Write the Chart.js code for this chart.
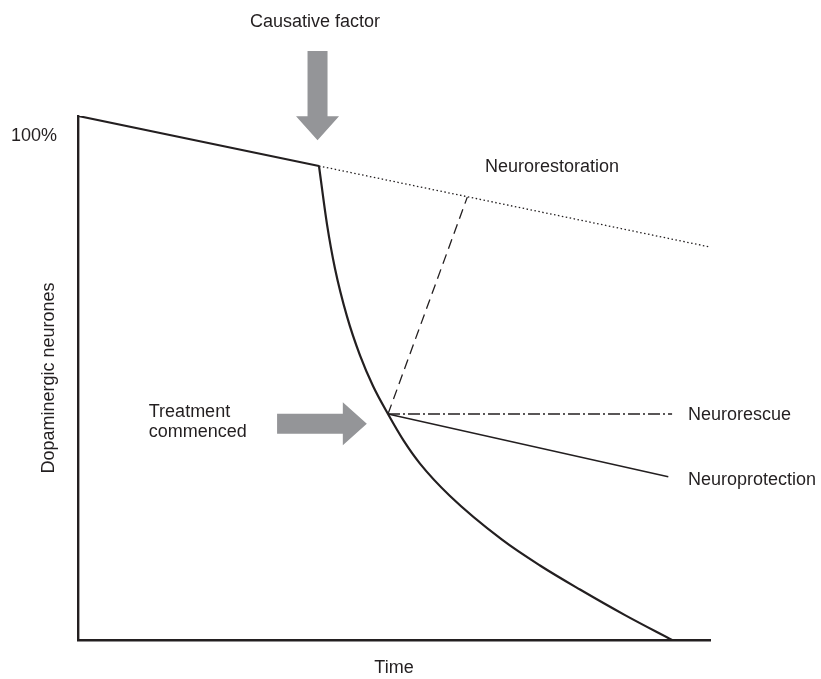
<!DOCTYPE html>
<html><head><meta charset="utf-8">
<script src="https://cdn.jsdelivr.net/npm/chart.js@4/dist/chart.umd.min.js"></script>
<style>html,body{margin:0;padding:0;background:#fff;}#wrap{width:821px;height:679px;}</style>
</head><body><div id="wrap"><canvas id="c" width="821" height="679"></canvas></div>
<script>
// ---- data ----
const xAxisTitle = 'Time';
const yAxisTitle = 'Dopaminergic neurones';
const yTickValues = [100];
const yTickLabels = ['100%'];

// slow decline before the causative factor
const preOnsetX = [0, 38.13];
const preOnsetY = [104, 94.08];
// accelerated loss after the causative factor
const diseaseX = [38.13, 39.40, 40.66, 42.56, 44.62, 46.68, 49.05, 51.58, 54.11, 58.86, 67.09, 73.10, 79.43, 86.55, 93.99];
const diseaseY = [94.08, 82.49, 73.75, 64.23, 56.49, 50.41, 44.85, 39.46, 35.01, 28.58, 19.91, 14.79, 10.02, 4.94, 0];
// neurorestoration target track (dotted)
const restorationTrackX = [38.13, 100];
const restorationTrackY = [94.08, 78.0];
// path back to restoration (dashed)
const restorationPathX = [49.05, 61.6];
const restorationPathY = [44.85, 87.9];
// neurorescue (dash-dot)
const rescueX = [49.05, 94.0];
const rescueY = [44.85, 44.85];
// neuroprotection (thin solid)
const protectionX = [49.05, 93.4];
const protectionY = [44.85, 32.4];

const annotationTexts = ['Causative factor', 'Neurorestoration', 'Neurorescue', 'Neuroprotection', 'Treatment', 'commenced'];

// ---- layout / style ----
const INK = '#231f20';
const ARROW = '#949598';
const FONT = "18px 'Liberation Sans', Arial, sans-serif";
const textPlacement = [
  {x: 37.5, y: 122.7, align: 'center'},
  {x: 64.4, y: 93.9, align: 'left'},
  {x: 96.5, y: 44.7, align: 'left'},
  {x: 96.5, y: 31.8, align: 'left'},
  {x: 11.2, y: 45.3, align: 'left'},
  {x: 11.2, y: 41.3, align: 'left'}
];
const arrows = [
  {from: {x: 37.9, y: 116.9}, to: {x: 37.9, y: 99.2}},
  {from: {x: 31.5, y: 42.9}, to: {x: 45.7, y: 42.9}}
];

function pts(xs, ys) { return xs.map((x, i) => ({x, y: ys[i]})); }
function line(data, opts) {
  return Object.assign({data, borderColor: INK, backgroundColor: INK, pointRadius: 0, showLine: true, fill: false, tension: 0, borderWidth: 1.5}, opts);
}

function drawArrow(ctx, x0, y0, x1, y1, shaftW, headW, headL) {
  const dx = x1 - x0, dy = y1 - y0, len = Math.hypot(dx, dy);
  const ux = dx / len, uy = dy / len, nx = -uy, ny = ux;
  const bx = x1 - ux * headL, by = y1 - uy * headL;
  ctx.beginPath();
  ctx.moveTo(x0 + nx * shaftW / 2, y0 + ny * shaftW / 2);
  ctx.lineTo(bx + nx * shaftW / 2, by + ny * shaftW / 2);
  ctx.lineTo(bx + nx * headW / 2, by + ny * headW / 2);
  ctx.lineTo(x1, y1);
  ctx.lineTo(bx - nx * headW / 2, by - ny * headW / 2);
  ctx.lineTo(bx - nx * shaftW / 2, by - ny * shaftW / 2);
  ctx.lineTo(x0 - nx * shaftW / 2, y0 - ny * shaftW / 2);
  ctx.closePath();
  ctx.fill();
}

const annotationsPlugin = {
  id: 'annotations',
  afterDraw(chart) {
    const ctx = chart.ctx, xs = chart.scales.x, ys = chart.scales.y;
    ctx.save();
    ctx.fillStyle = ARROW;
    arrows.forEach(a => {
      drawArrow(ctx, xs.getPixelForValue(a.from.x), ys.getPixelForValue(a.from.y),
        xs.getPixelForValue(a.to.x), ys.getPixelForValue(a.to.y), 20, 43, 24);
    });
    ctx.fillStyle = INK;
    ctx.font = FONT;
    ctx.textBaseline = 'middle';
    annotationTexts.forEach((t, i) => {
      const p = textPlacement[i];
      ctx.textAlign = p.align;
      ctx.fillText(t, xs.getPixelForValue(p.x), ys.getPixelForValue(p.y));
    });
    ctx.restore();
  }
};

Chart.defaults.font.family = "'Liberation Sans', Arial, sans-serif";
Chart.defaults.font.size = 18;
Chart.defaults.color = INK;

new Chart(document.getElementById('c'), {
  type: 'scatter',
  data: {
    datasets: [
      line(pts(preOnsetX, preOnsetY), {borderWidth: 2.2}),
      line(pts(diseaseX, diseaseY), {borderWidth: 2.2, cubicInterpolationMode: 'monotone'}),
      line(pts(restorationTrackX, restorationTrackY), {borderWidth: 1.3, borderDash: [1.5, 2.5], clip: 4}),
      line(pts(restorationPathX, restorationPathY), {borderWidth: 1.3, borderDash: [10, 6]}),
      line(pts(rescueX, rescueY), {borderWidth: 1.4, borderDash: [12, 3, 2, 3]}),
      line(pts(protectionX, protectionY), {borderWidth: 1.4})
    ]
  },
  options: {
    responsive: false,
    animation: false,
    devicePixelRatio: 1,
    layout: {padding: {top: 116, right: 111, bottom: 0, left: 0}},
    plugins: {legend: {display: false}, tooltip: {enabled: false}},
    scales: {
      x: {
        type: 'linear', min: 0, max: 100,
        grid: {display: false, drawTicks: false},
        border: {display: true, color: INK, width: 2.6},
        ticks: {display: false},
        title: {display: true, text: xAxisTitle, color: INK, font: {size: 18}, padding: {top: 0, bottom: 0}},
        afterFit(s) { s.height = 39; }
      },
      y: {
        type: 'linear', min: 0, max: 104,
        grid: {display: false, drawTicks: false},
        border: {display: true, color: INK, width: 2.4},
        ticks: {
          padding: 21, color: INK, font: {size: 18},
          callback: (v) => { const i = yTickValues.indexOf(v); return i >= 0 ? yTickLabels[i] : ''; }
        },
        afterBuildTicks(s) { s.ticks = yTickValues.map(v => ({value: v})); },
        title: {display: true, text: yAxisTitle, color: INK, font: {size: 18}, padding: {top: 38, bottom: 0}},
        afterFit(s) { s.width = 78; }
      }
    }
  },
  plugins: [annotationsPlugin]
});
</script>
</body></html>
